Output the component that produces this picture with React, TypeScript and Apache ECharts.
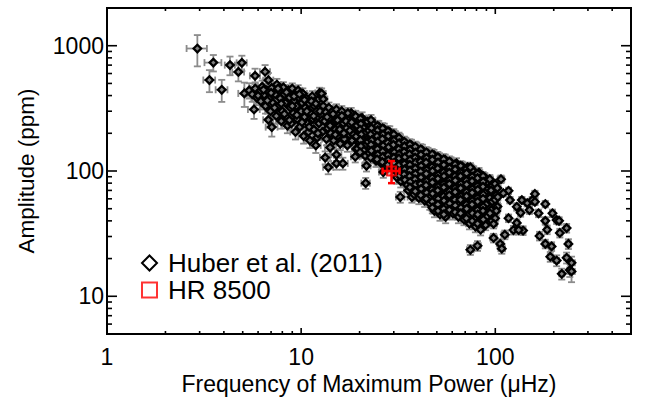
import React, { useEffect, useRef } from "react";
import * as echarts from "echarts";

const FONT = "'Liberation Sans', Arial, Helvetica, sans-serif";

const xTickMajor = [1, 10, 100];
const xTickMinor = [2, 3, 4, 5, 6, 7, 8, 9, 20, 30, 40, 50, 60, 70, 80, 90, 200, 300, 400];
const yTickMajor = [10, 100, 1000];
const yTickMinor = [6, 7, 8, 9, 20, 30, 40, 50, 60, 70, 80, 90, 200, 300, 400, 500, 600, 700, 800, 900];

// [nu_max (µHz), amplitude (ppm), nu_max error (%), amplitude error (%)]
const huberLowFreq = [
  [2.92, 950, 12, 28], [3.37, 532, 7, 20], [3.53, 733, 10, 15], [3.9, 445, 7, 20], [4.3, 700, 6, 17],
  [4.75, 618, 7, 16], [4.95, 730, 6, 14], [5.1, 416, 7, 22], [5.72, 310, 7, 16], [5.79, 575, 6, 14],
  [6.52, 620, 6, 13], [6.78, 531, 6, 14], [6.78, 256, 6, 14], [7.06, 224, 7, 16],
];

const huberLeftBand = [
  [5.4, 440, 6, 14], [5.6, 410, 6, 13], [5.8, 455, 5, 12], [5.9, 385, 6, 13], [6.1, 430, 5, 12],
  [6.2, 360, 6, 14], [6.3, 470, 5, 12], [6.45, 405, 5, 12], [6.55, 330, 6, 13], [6.65, 440, 5, 11],
  [6.85, 380, 5, 12], [6.95, 300, 6, 13], [7.05, 460, 5, 11], [7.15, 350, 5, 12], [7.35, 410, 5, 11],
  [7.45, 275, 6, 13], [7.5, 490, 5, 11], [7.6, 325, 5, 12], [7.7, 440, 5, 11], [7.8, 380, 5, 11],
  [7.9, 250, 6, 13], [8.0, 300, 5, 12], [8.1, 465, 5, 10], [8.2, 410, 5, 11], [8.3, 350, 5, 11],
  [8.4, 270, 5, 12], [8.5, 230, 6, 13], [8.6, 440, 5, 10], [8.7, 385, 5, 11], [8.8, 320, 5, 11],
  [8.9, 240, 5, 12], [9.0, 455, 5, 10], [9.1, 290, 5, 11], [9.2, 360, 5, 11], [9.3, 415, 5, 10],
  [9.35, 205, 6, 13], [9.45, 330, 5, 11], [9.55, 260, 5, 11], [9.65, 440, 5, 10], [9.75, 385, 5, 10],
  [9.85, 225, 5, 12], [10.0, 300, 5, 11], [10.1, 350, 5, 10], [10.2, 415, 5, 10], [10.3, 190, 6, 13],
  [10.4, 270, 5, 11], [10.5, 320, 5, 11], [10.6, 380, 5, 10], [10.8, 240, 5, 11], [10.9, 205, 6, 12],
  [11.0, 345, 5, 10], [11.1, 175, 6, 13], [11.2, 290, 5, 11], [11.4, 395, 5, 10], [11.5, 260, 5, 11],
  [11.6, 215, 5, 12], [11.7, 330, 5, 10], [11.9, 160, 6, 13], [12.0, 300, 5, 11], [12.1, 185, 5, 12],
  [12.2, 370, 5, 10], [12.35, 240, 5, 11], [12.45, 420, 5, 10], [12.65, 280, 5, 11], [12.75, 415, 5, 10],
  [12.85, 205, 5, 11], [13.0, 330, 5, 10],
  [6.0, 400, 5, 12], [6.4, 445, 5, 12], [6.7, 365, 5, 12], [7.0, 420, 5, 11], [7.3, 320, 5, 12],
  [7.6, 455, 5, 11], [7.9, 345, 5, 11], [8.2, 285, 5, 12], [8.4, 425, 5, 10], [8.7, 255, 5, 12],
  [9.0, 330, 5, 11], [9.2, 395, 5, 10], [9.5, 280, 5, 11], [9.8, 410, 5, 10], [10.1, 245, 5, 12],
  [10.4, 370, 5, 10], [10.7, 300, 5, 11], [11.0, 225, 5, 12], [11.3, 360, 5, 10], [11.6, 275, 5, 11],
  [11.9, 345, 5, 10], [12.2, 200, 5, 12], [12.5, 300, 5, 11], [12.8, 255, 5, 11], [13.0, 375, 5, 10],
];

const huberMidBand = [
  [13.3, 128, 6, 12], [13.8, 107, 6, 12], [14.1, 154, 6, 11], [15.2, 115, 6, 11], [15.2, 135, 6, 11],
  [16.4, 115, 6, 11], [17.1, 175, 5, 10], [19.0, 130, 5, 10], [21.7, 110, 5, 10], [21.5, 80, 5, 10],
  [26.5, 98, 5, 10], [32.4, 62, 5, 10], [37.2, 62, 5, 10],
  [13.2, 250, 5, 10], [13.4, 295, 5, 10], [13.5, 180, 5, 11], [13.7, 220, 5, 10], [13.9, 320, 5, 10],
  [14.0, 265, 5, 10], [14.2, 200, 5, 10], [14.4, 240, 5, 10], [14.5, 300, 5, 10], [14.7, 175, 5, 11],
  [14.8, 275, 5, 10], [15.0, 215, 5, 10], [15.1, 250, 5, 10], [15.2, 310, 5, 10], [15.4, 190, 5, 10],
  [15.5, 280, 5, 10], [15.7, 230, 5, 10], [15.9, 165, 5, 11], [16.0, 260, 5, 10], [16.2, 300, 5, 10],
  [16.3, 205, 5, 10], [16.5, 240, 5, 10], [16.7, 180, 5, 10], [16.9, 275, 5, 10], [17.1, 220, 5, 10],
  [17.3, 160, 5, 11], [17.5, 255, 5, 10], [17.7, 195, 5, 10], [17.9, 235, 5, 10], [18.1, 290, 5, 10],
  [18.3, 175, 5, 10], [18.5, 215, 5, 10], [18.8, 260, 5, 10], [19.0, 190, 5, 10], [19.2, 150, 5, 11],
  [13.6, 270, 5, 10], [14.1, 230, 5, 10], [14.6, 285, 5, 10], [15.0, 195, 5, 10], [15.4, 255, 5, 10],
  [15.8, 215, 5, 10], [16.2, 275, 5, 10], [16.6, 200, 5, 10], [17.0, 250, 5, 10], [17.4, 290, 5, 10],
  [17.8, 210, 5, 10], [18.2, 245, 5, 10], [18.6, 195, 5, 10], [19.0, 275, 5, 10], [19.3, 225, 5, 10],
  [19.6, 170, 5, 10],
];

const huberCore = [
  [19.1, 272, 5, 11], [19.9, 254, 5, 10], [19.4, 231, 5, 10], [19.8, 207, 5, 10], [19.2, 189, 5, 10], [20.0, 170, 5, 10], [19.5, 151, 5, 11],
  [20.6, 265, 5, 11], [21.5, 241, 5, 10], [20.9, 222, 5, 10], [21.3, 199, 5, 10], [20.7, 178, 5, 10], [21.6, 162, 5, 10], [21.0, 146, 5, 10], [21.4, 132, 5, 11],
  [22.0, 247, 5, 11], [22.8, 232, 5, 10], [22.3, 210, 5, 10], [22.9, 184, 5, 10], [22.1, 171, 5, 10], [22.7, 153, 5, 10], [22.4, 139, 5, 11],
  [23.4, 239, 5, 11], [24.3, 220, 5, 10], [23.7, 200, 5, 10], [24.2, 181, 5, 10], [23.5, 158, 5, 10], [24.4, 147, 5, 10], [23.8, 133, 5, 10], [24.3, 121, 5, 11],
  [25.1, 226, 5, 11], [25.9, 203, 5, 10], [25.4, 191, 5, 10], [25.8, 168, 5, 10], [25.2, 156, 5, 10], [26.1, 139, 5, 10], [25.5, 127, 5, 10], [25.9, 115, 5, 11],
  [26.8, 215, 5, 11], [27.6, 198, 5, 10], [27.0, 175, 5, 10], [27.5, 164, 5, 10], [26.7, 148, 5, 10], [27.6, 129, 5, 10], [27.1, 120, 5, 10], [27.4, 109, 5, 11],
  [28.6, 205, 5, 11], [29.5, 184, 5, 10], [28.9, 172, 5, 10], [29.6, 150, 5, 10], [28.7, 139, 5, 10], [29.8, 126, 5, 10], [29.0, 113, 5, 10], [29.7, 104, 5, 11],
  [30.5, 188, 5, 11], [31.4, 178, 5, 10], [30.9, 156, 5, 10], [31.6, 146, 5, 10], [30.6, 131, 5, 10], [31.3, 119, 5, 10], [30.9, 104, 5, 10], [31.7, 96, 5, 10], [31.1, 89, 5, 11],
  [32.3, 178, 5, 11], [33.3, 161, 5, 10], [32.9, 151, 5, 10], [33.5, 133, 5, 10], [32.4, 124, 5, 10], [33.2, 108, 5, 10], [32.8, 101, 5, 10], [33.6, 90, 5, 10], [32.6, 83, 5, 11],
  [34.6, 166, 5, 11], [35.9, 151, 5, 10], [35.2, 141, 5, 10], [34.7, 128, 5, 10], [36.0, 118, 5, 10], [35.3, 106, 5, 10], [34.8, 96, 5, 10], [35.9, 86, 5, 10], [35.0, 78, 5, 10], [35.6, 70, 5, 11],
  [37.0, 160, 5, 11], [38.2, 144, 5, 10], [37.5, 134, 5, 10], [36.9, 119, 5, 10], [38.3, 111, 5, 10], [37.6, 98, 5, 10], [37.1, 90, 5, 10], [38.0, 80, 5, 10], [37.3, 74, 5, 10], [38.2, 65, 5, 11],
  [39.4, 152, 5, 11], [40.7, 141, 5, 10], [40.0, 124, 5, 10], [39.3, 116, 5, 10], [40.8, 104, 5, 10], [40.1, 92, 5, 10], [39.5, 85, 5, 10], [40.6, 75, 5, 10], [39.9, 70, 5, 10], [40.4, 61, 5, 11],
  [42.1, 146, 5, 11], [43.5, 130, 5, 10], [42.8, 122, 5, 10], [42.2, 107, 5, 10], [43.6, 99, 5, 10], [42.9, 87, 5, 10], [42.3, 81, 5, 10], [43.4, 71, 5, 10], [42.6, 66, 5, 10], [43.3, 58, 5, 11],
  [45.0, 138, 5, 11], [46.4, 128, 5, 10], [45.7, 113, 5, 10], [45.1, 104, 5, 10], [46.5, 91, 5, 10], [45.8, 85, 5, 10], [45.0, 75, 5, 10], [46.3, 70, 5, 10], [45.6, 61, 5, 10], [46.0, 55, 5, 11],
  [48.3, 134, 4, 10], [49.8, 119, 4, 10], [49.0, 110, 4, 10], [48.4, 97, 4, 10], [49.9, 90, 4, 10], [49.2, 79, 4, 10], [48.5, 73, 4, 10], [49.7, 64, 4, 10], [48.9, 60, 4, 10], [49.6, 52, 4, 10], [48.6, 48, 4, 11],
  [51.6, 126, 4, 10], [53.2, 116, 4, 10], [52.4, 102, 4, 10], [51.7, 95, 4, 10], [53.3, 84, 4, 10], [52.5, 78, 4, 10], [51.8, 68, 4, 10], [53.0, 63, 4, 10], [52.3, 55, 4, 10], [53.2, 50, 4, 10], [51.9, 45, 4, 11],
  [55.2, 123, 4, 10], [56.9, 109, 4, 10], [56.1, 101, 4, 10], [55.3, 89, 4, 10], [57.0, 82, 4, 10], [56.2, 72, 4, 10], [55.4, 67, 4, 10], [56.8, 58, 4, 10], [55.9, 54, 4, 10], [56.6, 46, 4, 10], [55.5, 43, 4, 11],
  [59.1, 117, 4, 10], [60.9, 107, 4, 10], [60.1, 95, 4, 10], [59.2, 87, 4, 10], [61.0, 77, 4, 10], [60.2, 71, 4, 10], [59.3, 62, 4, 10], [60.7, 58, 4, 10], [59.9, 50, 4, 10], [60.5, 46, 4, 11],
  [63.1, 115, 4, 10], [65.0, 102, 4, 10], [64.1, 94, 4, 10], [63.2, 83, 4, 10], [65.1, 76, 4, 10], [64.2, 67, 4, 10], [63.3, 62, 4, 10], [64.9, 54, 4, 10], [63.9, 50, 4, 10], [64.6, 43, 4, 11],
  [67.5, 109, 4, 9], [69.5, 100, 4, 9], [68.6, 88, 4, 9], [67.6, 81, 4, 9], [69.6, 71, 4, 9], [68.7, 66, 4, 9], [67.7, 57, 4, 9], [69.4, 53, 4, 9], [68.3, 45, 4, 9], [69.0, 41, 4, 10],
  [72.0, 107, 4, 9], [74.1, 94, 4, 9], [73.1, 86, 4, 9], [72.1, 76, 4, 9], [74.2, 70, 4, 9], [73.2, 61, 4, 9], [72.2, 57, 4, 9], [74.0, 49, 4, 9], [72.9, 45, 4, 9], [73.6, 38, 4, 10],
  [77.4, 100, 4, 9], [79.6, 92, 4, 9], [78.6, 81, 4, 9], [77.5, 75, 4, 9], [79.7, 65, 4, 9], [78.7, 60, 4, 9], [77.6, 52, 4, 9], [79.5, 48, 4, 9], [78.3, 41, 4, 9], [79.0, 36, 4, 10],
  [82.4, 97, 4, 9], [84.7, 85, 4, 9], [83.6, 78, 4, 9], [82.5, 68, 4, 9], [84.8, 63, 4, 9], [83.7, 55, 4, 9], [82.6, 51, 4, 9], [84.4, 43, 4, 9], [83.3, 40, 4, 9], [84.0, 34, 4, 10],
  [88.3, 89, 4, 8], [90.8, 82, 4, 8], [89.6, 72, 4, 8], [88.4, 67, 4, 8], [90.9, 58, 4, 8], [89.7, 54, 4, 8], [88.5, 46, 4, 8], [90.3, 43, 4, 8], [89.2, 37, 4, 9],
  [93.7, 86, 4, 8], [96.3, 76, 4, 8], [95.1, 70, 4, 8], [93.8, 61, 4, 8], [96.4, 57, 4, 8], [95.2, 49, 4, 8], [93.9, 46, 4, 8], [95.8, 40, 4, 9],
  [99.6, 79, 4, 8], [102.5, 73, 4, 8], [101.1, 64, 4, 8], [99.7, 59, 4, 8], [102.6, 52, 4, 8], [101.2, 48, 4, 8], [99.8, 42, 4, 8],
];

const huberCoreFill = [
  [20.2, 262, 5, 10], [20.3, 238, 5, 10], [20.1, 214, 5, 10], [20.4, 196, 5, 10], [20.2, 176, 5, 10], [20.3, 158, 5, 10], [20.1, 141, 5, 10],
  [22.9, 255, 5, 10], [23.0, 220, 5, 10], [22.8, 196, 5, 10], [23.1, 176, 5, 10], [22.9, 162, 5, 10], [23.0, 145, 5, 10], [22.8, 128, 5, 10],
  [24.7, 229, 5, 10], [24.8, 212, 5, 10], [24.6, 190, 5, 10], [24.9, 172, 5, 10], [24.7, 150, 5, 10], [24.8, 135, 5, 10], [24.6, 124, 5, 10],
  [26.3, 219, 5, 10], [26.4, 196, 5, 10], [26.2, 180, 5, 10], [26.5, 160, 5, 10], [26.3, 143, 5, 10], [26.4, 130, 5, 10], [26.2, 118, 5, 10],
  [28.0, 208, 5, 10], [28.1, 190, 5, 10], [27.9, 168, 5, 10], [28.2, 155, 5, 10], [28.0, 134, 5, 10], [28.1, 122, 5, 10], [27.9, 112, 5, 10],
  [30.0, 196, 5, 10], [30.1, 176, 5, 10], [29.9, 162, 5, 10], [30.2, 141, 5, 10], [30.0, 128, 5, 10], [30.1, 116, 5, 10],
  [31.9, 184, 5, 10], [32.0, 167, 5, 10], [31.8, 150, 5, 10], [32.1, 137, 5, 10], [31.9, 126, 5, 10], [32.0, 112, 5, 10], [31.8, 99, 5, 10], [32.1, 92, 5, 10],
  [34.0, 171, 5, 10], [34.1, 158, 5, 10], [33.9, 142, 5, 10], [34.2, 129, 5, 10], [34.0, 114, 5, 10], [34.1, 103, 5, 10], [33.9, 94, 5, 10], [34.2, 85, 5, 10],
  [36.3, 163, 5, 10], [36.4, 148, 5, 10], [36.2, 136, 5, 10], [36.5, 123, 5, 10], [36.3, 112, 5, 10], [36.4, 101, 5, 10], [36.2, 91, 5, 10], [36.5, 82, 5, 10], [36.3, 74, 5, 10],
  [38.7, 156, 5, 10], [38.8, 140, 5, 10], [38.6, 128, 5, 10], [38.9, 117, 5, 10], [38.7, 105, 5, 10], [38.8, 95, 5, 10], [38.6, 86, 5, 10], [38.9, 78, 5, 10], [38.7, 69, 5, 10],
  [41.3, 149, 5, 10], [41.4, 135, 5, 10], [41.2, 119, 5, 10], [41.5, 110, 5, 10], [41.3, 99, 5, 10], [41.4, 89, 5, 10], [41.2, 79, 5, 10], [41.5, 72, 5, 10], [41.3, 64, 5, 10],
  [44.1, 141, 5, 10], [44.2, 127, 5, 10], [44.0, 117, 5, 10], [44.3, 102, 5, 10], [44.1, 95, 5, 10], [44.2, 83, 5, 10], [44.0, 77, 5, 10], [44.3, 67, 5, 10], [44.1, 60, 5, 10],
  [47.3, 136, 4, 10], [47.4, 123, 4, 10], [47.2, 108, 4, 10], [47.5, 100, 4, 10], [47.3, 88, 4, 10], [47.4, 81, 4, 10], [47.2, 71, 4, 10], [47.5, 66, 4, 10], [47.3, 57, 4, 10], [47.4, 51, 4, 10],
  [50.6, 129, 4, 10], [50.7, 117, 4, 10], [50.5, 105, 4, 10], [50.8, 93, 4, 10], [50.6, 87, 4, 10], [50.7, 75, 4, 10], [50.5, 70, 4, 10], [50.8, 60, 4, 10], [50.6, 54, 4, 10], [50.7, 48, 4, 10],
  [54.2, 124, 4, 10], [54.3, 112, 4, 10], [54.1, 98, 4, 10], [54.4, 91, 4, 10], [54.2, 79, 4, 10], [54.3, 74, 4, 10], [54.1, 63, 4, 10], [54.4, 58, 4, 10], [54.2, 50, 4, 10], [54.3, 45, 4, 10],
  [58.0, 119, 4, 10], [58.1, 106, 4, 10], [57.9, 97, 4, 10], [58.2, 85, 4, 10], [58.0, 79, 4, 10], [58.1, 69, 4, 10], [57.9, 64, 4, 10], [58.2, 55, 4, 10], [58.0, 49, 4, 10],
  [62.0, 113, 4, 10], [62.1, 103, 4, 10], [61.9, 91, 4, 10], [62.2, 84, 4, 10], [62.0, 73, 4, 10], [62.1, 68, 4, 10], [61.9, 59, 4, 10], [62.2, 53, 4, 10], [62.0, 47, 4, 10],
  [66.3, 110, 4, 9], [66.4, 97, 4, 9], [66.2, 91, 4, 9], [66.5, 79, 4, 9], [66.3, 73, 4, 9], [66.4, 63, 4, 9], [66.2, 59, 4, 9], [66.5, 51, 4, 9], [66.3, 46, 4, 9],
  [71.0, 104, 4, 9], [71.1, 96, 4, 9], [70.9, 84, 4, 9], [71.2, 78, 4, 9], [71.0, 68, 4, 9], [71.1, 63, 4, 9], [70.9, 54, 4, 9], [71.2, 50, 4, 9], [71.0, 42, 4, 9],
  [76.0, 101, 4, 9], [76.1, 90, 4, 9], [75.9, 83, 4, 9], [76.2, 72, 4, 9], [76.0, 67, 4, 9], [76.1, 58, 4, 9], [75.9, 54, 4, 9], [76.2, 46, 4, 9], [76.0, 40, 4, 9],
  [81.0, 95, 4, 9], [81.1, 88, 4, 9], [80.9, 76, 4, 9], [81.2, 71, 4, 9], [81.0, 61, 4, 9], [81.1, 57, 4, 9], [80.9, 49, 4, 9], [81.2, 45, 4, 9], [81.0, 38, 4, 9],
  [86.5, 91, 4, 8], [86.6, 82, 4, 8], [86.4, 75, 4, 8], [86.7, 65, 4, 8], [86.5, 60, 4, 8], [86.6, 52, 4, 8], [86.4, 48, 4, 8], [86.7, 41, 4, 8],
];

const huberHighFreq = [
  [74.4, 107, 4, 8], [107, 86, 4, 7], [117, 69.5, 3, 6], [110, 66.5, 3, 6], [103, 62, 3, 6],
  [119, 58.6, 3, 6], [137, 58.6, 3, 6], [146, 55.4, 3, 6], [155, 58.6, 3, 6], [160, 65.6, 3, 6],
  [160, 56.8, 3, 6], [181, 54.5, 3, 6], [129, 51.8, 3, 7], [150, 48.8, 3, 7], [167, 46, 3, 7],
  [197, 46, 3, 7], [135, 46.4, 3, 7], [117, 42, 3, 7], [181, 40, 3, 7], [207, 40.6, 3, 7],
  [213, 40, 3, 7], [129, 38.5, 3, 7], [98, 37.8, 4, 8], [233, 35, 3, 8], [185, 34, 3, 8],
  [124, 33.8, 3, 8], [139, 33.5, 3, 8], [132, 33.8, 3, 8], [215, 32, 3, 8], [169, 30.3, 3, 8],
  [98, 29.2, 4, 8], [112, 31, 4, 8], [181, 26.2, 3, 8], [195, 25, 3, 8], [238, 26.2, 3, 9],
  [106, 26.2, 4, 9], [108, 24, 4, 9], [81, 25.3, 4, 9], [74.4, 23.5, 4, 9], [192, 20.7, 3, 9],
  [207, 19.3, 3, 10], [233, 20.3, 3, 10], [242, 16.2, 3, 12], [220, 15.1, 3, 10], [247, 15.8, 4, 18],
  [247, 18.5, 4, 12],
];

const hr8500 = [[29.2, 100, 10, 20]];

function errorBarRenderer(color: string, lw: number, cap: number) {
  return (_params: any, api: any) => {
    const f = api.value(0);
    const a = api.value(1);
    const ef = api.value(2) / 100;
    const ea = api.value(3) / 100;
    const c = api.coord([f, a]);
    const l = api.coord([f * (1 - ef), a]);
    const r = api.coord([f * (1 + ef), a]);
    const t = api.coord([f, a * (1 + ea)]);
    const b = api.coord([f, a * (1 - ea)]);
    const ln = (x1: number, y1: number, x2: number, y2: number) => ({
      type: "line",
      shape: { x1, y1, x2, y2 },
      style: { stroke: color, lineWidth: lw },
    });
    return {
      type: "group",
      children: [
        ln(l[0], c[1], r[0], c[1]),
        ln(c[0], t[1], c[0], b[1]),
        ln(l[0], c[1] - cap, l[0], c[1] + cap),
        ln(r[0], c[1] - cap, r[0], c[1] + cap),
        ln(c[0] - cap, t[1], c[0] + cap, t[1]),
        ln(c[0] - cap, b[1], c[0] + cap, b[1]),
      ],
    };
  };
}

function tickSeries(values: number[], axis: "x" | "y", len: number) {
  return {
    type: "custom",
    silent: true,
    clip: false,
    z: 10,
    data: values.map((v) => (axis === "x" ? [v, 100] : [10, v])),
    encode: { x: 0, y: 1 },
    renderItem: (params: any, api: any) => {
      const cs = params.coordSys;
      const st = () => ({ stroke: "#000", lineWidth: 1.6 });
      if (axis === "x") {
        const px = api.coord([api.value(0), 100])[0];
        return {
          type: "group",
          children: [
            { type: "line", shape: { x1: px, y1: cs.y + cs.height, x2: px, y2: cs.y + cs.height - len }, style: st() },
            { type: "line", shape: { x1: px, y1: cs.y, x2: px, y2: cs.y + len }, style: st() },
          ],
        };
      }
      const py = api.coord([10, api.value(1)])[1];
      return {
        type: "group",
        children: [
          { type: "line", shape: { x1: cs.x, y1: py, x2: cs.x + len, y2: py }, style: st() },
          { type: "line", shape: { x1: cs.x + cs.width, y1: py, x2: cs.x + cs.width - len, y2: py }, style: st() },
        ],
      };
    },
  };
}

export default function App() {
  const ref = useRef<HTMLDivElement>(null);
  useEffect(() => {
    const chart = echarts.init(ref.current!, null, { renderer: "svg" });
    const huber = [
      ...huberLowFreq,
      ...huberLeftBand,
      ...huberMidBand,
      ...huberCore,
      ...huberCoreFill,
      ...huberHighFreq,
    ];
    chart.setOption({
      animation: false,
      backgroundColor: "#fff",
      grid: {
        left: 107,
        right: 16,
        top: 8,
        bottom: 65,
        show: true,
        borderColor: "#000",
        borderWidth: 2,
        containLabel: false,
        outerBoundsMode: "none",
      },
      legend: {
        orient: "vertical",
        left: 141,
        top: 250,
        padding: 0,
        itemWidth: 15,
        itemHeight: 15,
        itemGap: 1,
        selectedMode: false,
        textStyle: { fontSize: 26, color: "#000", fontFamily: FONT, lineHeight: 26, padding: [0, 0, 0, 6] },
        data: [
          { name: "Huber et al. (2011)", icon: "diamond", itemStyle: { color: "#fff", borderColor: "#000", borderWidth: 2 } },
          { name: "HR 8500", icon: "rect", itemStyle: { color: "#fff", borderColor: "#ff0000", borderWidth: 2 } },
        ],
      },
      xAxis: {
        type: "log",
        logBase: 10,
        min: 1,
        max: 500,
        axisLine: { show: false },
        axisTick: { show: false },
        splitLine: { show: false },
        axisLabel: {
          fontSize: 23,
          color: "#000",
          fontFamily: FONT,
          margin: 11,
          showMaxLabel: false,
          formatter: (v: number) => String(Math.round(v)),
        },
        name: "Frequency of Maximum Power (\u03bcHz)",
        nameLocation: "middle",
        nameGap: 37,
        nameTextStyle: { fontSize: 23, color: "#000", fontFamily: FONT },
      },
      yAxis: {
        type: "log",
        logBase: 10,
        min: 5,
        max: 2000,
        axisLine: { show: false },
        axisTick: { show: false },
        splitLine: { show: false },
        axisLabel: {
          fontSize: 23,
          color: "#000",
          fontFamily: FONT,
          margin: 3,
          showMinLabel: false,
          showMaxLabel: false,
          formatter: (v: number) => String(Math.round(v)),
        },
        name: "Amplitude (ppm)",
        nameLocation: "middle",
        nameGap: 69,
        nameTextStyle: { fontSize: 22.5, color: "#000", fontFamily: FONT },
      },
      series: [
        {
          type: "custom",
          silent: true,
          z: 1,
          data: huber,
          encode: { x: 0, y: 1 },
          renderItem: errorBarRenderer("#8c8c8c", 1.8, 3.5),
        },
        {
          name: "Huber et al. (2011)",
          type: "scatter",
          z: 2,
          symbol: "diamond",
          symbolSize: 7.5,
          data: huber.map((d) => [d[0], d[1]]),
          itemStyle: { color: "#808080", borderColor: "#000", borderWidth: 2.3, opacity: 1 },
          emphasis: { disabled: true },
        },
        {
          type: "custom",
          silent: true,
          z: 3,
          data: hr8500,
          encode: { x: 0, y: 1 },
          renderItem: errorBarRenderer("#ff0000", 2.5, 3.5),
        },
        {
          name: "HR 8500",
          type: "scatter",
          z: 4,
          symbol: "rect",
          symbolSize: 9,
          data: hr8500.map((d) => [d[0], d[1]]),
          itemStyle: { color: "rgba(255,0,0,0.15)", borderColor: "#ff0000", borderWidth: 2.2 },
          emphasis: { disabled: true },
        },
        tickSeries(xTickMajor, "x", 6),
        tickSeries(xTickMinor, "x", 3),
        tickSeries(yTickMajor, "y", 10),
        tickSeries(yTickMinor, "y", 5),
      ],
    });
    return () => chart.dispose();
  }, []);
  return (
    <div
      ref={ref}
      style={{ position: "fixed", left: 0, top: 0, width: 647, height: 399, background: "#fff" }}
    />
  );
}
